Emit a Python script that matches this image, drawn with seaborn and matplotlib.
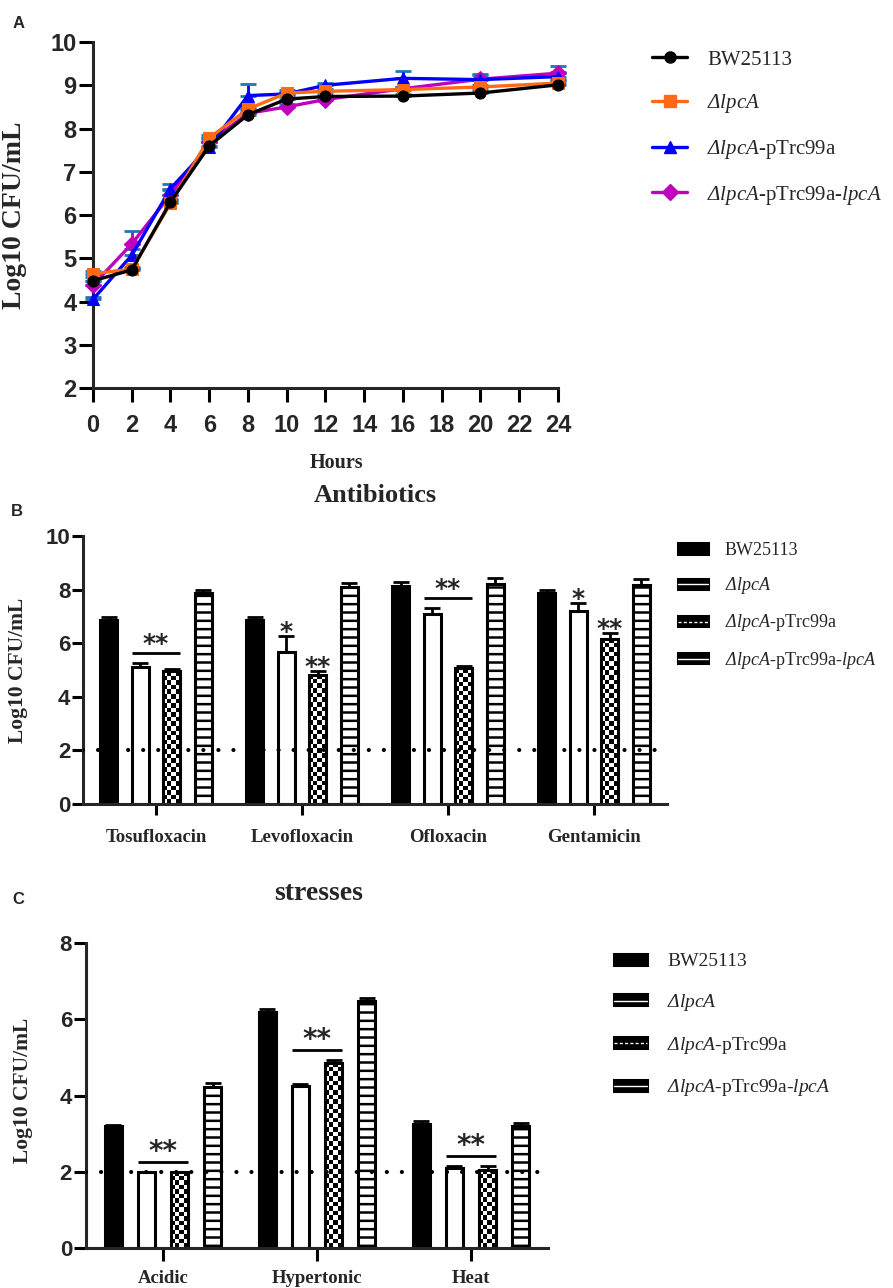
import numpy as np
import pandas as pd
import matplotlib
matplotlib.use("Agg")
import matplotlib.pyplot as plt
import seaborn as sns
from matplotlib.lines import Line2D
from matplotlib.patches import Patch
from matplotlib.legend_handler import HandlerTuple

# ---------------------------------------------------------------- data
STRAINS = ["BW25113", "dlpcA", "dlpcA-pTrc99a", "dlpcA-pTrc99a-lpcA"]
STRAIN_LABELS = [
    "BW25113",
    r"$\mathsf{\Delta}\mathit{lpcA}$",
    r"$\mathsf{\Delta}\mathit{lpcA}$-pTrc99a",
    r"$\mathsf{\Delta}\mathit{lpcA}$-pTrc99a-$\mathit{lpcA}$",
]
LINE_COLORS = ["#000000", "#FF6A13", "#0000FF", "#BF00BF"]
LINE_MARKERS = ["o", "s", "^", "D"]

# Fig A: growth curve
HOURS = [0, 2, 4, 6, 8, 10, 12, 16, 20, 24]
GROWTH_BW = [4.48, 4.73, 6.30, 7.60, 8.32, 8.68, 8.74, 8.75, 8.82, 9.01]
GROWTH_DEL = [4.64, 4.75, 6.27, 7.78, 8.45, 8.82, 8.86, 8.90, 8.96, 9.05]
GROWTH_VEC = [4.05, 5.07, 6.61, 7.58, 8.76, 8.80, 9.00, 9.16, 9.13, 9.20]
GROWTH_COMP = [4.38, 5.33, 6.47, 7.68, 8.35, 8.50, 8.67, 8.92, 9.14, 9.28]
GROWTH_BW_SD = [0.08, 0.05, 0.08, 0.10, 0.06, 0.08, 0.05, 0.05, 0.06, 0.10]
GROWTH_DEL_SD = [0.06, 0.05, 0.08, 0.06, 0.08, 0.06, 0.05, 0.05, 0.05, 0.06]
GROWTH_VEC_SD = [0.05, 0.15, 0.10, 0.10, 0.27, 0.05, 0.06, 0.17, 0.14, 0.10]
GROWTH_COMP_SD = [0.10, 0.29, 0.10, 0.10, 0.10, 0.06, 0.05, 0.05, 0.10, 0.16]

# Fig B: antibiotics
ANTIBIOTICS = ["Tosufloxacin", "Levofloxacin", "Ofloxacin", "Gentamicin"]
ABX_BW = [6.85, 6.86, 8.12, 7.86]
ABX_DEL = [5.10, 5.67, 7.10, 7.22]
ABX_VEC = [4.96, 4.82, 5.07, 6.17]
ABX_COMP = [7.86, 8.10, 8.20, 8.18]
ABX_BW_SD = [0.13, 0.13, 0.15, 0.12]
ABX_DEL_SD = [0.17, 0.60, 0.20, 0.27]
ABX_VEC_SD = [0.07, 0.14, 0.08, 0.21]
ABX_COMP_SD = [0.12, 0.15, 0.25, 0.22]
ABX_PAIR = ["**", "", "**", ""]
ABX_DEL_STAR = ["", "*", "", "*"]
ABX_VEC_STAR = ["", "**", "", "**"]

# Fig C: stresses
STRESSES = ["Acidic", "Hypertonic", "Heat"]
ST_BW = [3.20, 6.20, 3.25]
ST_DEL = [2.00, 4.25, 2.09]
ST_VEC = [2.00, 4.86, 2.05]
ST_COMP = [4.21, 6.48, 3.21]
ST_BW_SD = [0.02, 0.08, 0.07]
ST_DEL_SD = [0.00, 0.06, 0.05]
ST_VEC_SD = [0.00, 0.08, 0.09]
ST_COMP_SD = [0.12, 0.08, 0.06]
ST_PAIR = ["**", "**", "**"]
ST_DEL_STAR = ["", "", ""]
ST_VEC_STAR = ["", "", ""]

LIMIT = 2.0   # detection limit (dotted line)

# ---------------------------------------------------------------- style
W, H = 893, 1288
sns.set_style("ticks")
plt.rcParams["font.family"] = ["Liberation Sans", "DejaVu Sans"]
plt.rcParams["mathtext.fontset"] = "custom"
plt.rcParams["mathtext.rm"] = "Liberation Serif"
plt.rcParams["mathtext.it"] = "Liberation Serif:italic"
plt.rcParams["mathtext.sf"] = "Liberation Serif:italic"
plt.rcParams["mathtext.bf"] = "Liberation Serif:bold"
plt.rcParams["hatch.linewidth"] = 1.8
plt.rcParams["axes.linewidth"] = 2.2

SERIF = "Liberation Serif"
SANS = "Liberation Sans"
LW = 2.2


def box(left, top, right, bottom):
    return [left / W, 1 - bottom / H, (right - left) / W, (bottom - top) / H]


def style_axes(ax, tick_len):
    for s in ["top", "right"]:
        ax.spines[s].set_visible(False)
    for s in ["left", "bottom"]:
        ax.spines[s].set_linewidth(LW)
    ax.tick_params(width=LW, length=tick_len, direction="out", color="black")


def px_per_unit(ax):
    (x0, y0), (x1, y1) = ax.transData.transform([(0, 0), (1, 1)])
    return x1 - x0, y1 - y0


def bar_panel(ax, cats, means, sds, gap, stripe, pair, del_star, vec_star,
              star_size, tick_len, label_pad):
    rows = []
    for s, m_list in zip(STRAINS, means):
        for c, m in zip(cats, m_list):
            rows.append({"cat": c, "strain": s, "val": m})
    df = pd.DataFrame(rows)
    sns.barplot(data=df, x="cat", y="val", hue="strain", order=cats,
                hue_order=STRAINS, palette=["black", "white", "white", "white"],
                saturation=1, width=0.86, gap=gap, errorbar=None, legend=False,
                edgecolor="black", linewidth=LW, ax=ax)
    ax.set_xlim(-0.5, len(cats) - 0.5)
    ax.set_autoscale_on(False)
    style_axes(ax, tick_len)
    ax.set_xlabel("")
    ax.set_ylabel("")
    ax.set_xticks(range(len(cats)))
    ax.set_xticklabels(cats, fontfamily=SERIF, fontweight="bold", fontsize=13.5)
    ax.tick_params(axis="x", pad=label_pad)
    ax.tick_params(axis="y", pad=1)

    sx, sy = px_per_unit(ax)
    conts = ax.containers

    # upper error bars
    for cont, sd_list in zip(conts, sds):
        xs = [p.get_x() + p.get_width() / 2 for p in cont]
        tops = [p.get_height() for p in cont]
        ax.errorbar(xs, tops, yerr=[np.zeros(len(sd_list)), sd_list],
                    fmt="none", ecolor="black", elinewidth=2.0, capsize=6,
                    capthick=2.0, zorder=0.5)

    # striped complemented strain
    for p in conts[3]:
        p.set_hatch(stripe)

    # checkerboard empty-vector strain
    sq = 4.6
    for p in conts[2]:
        x0, w, h = p.get_x(), p.get_width(), p.get_height()
        ncol = max(2, int(round(w * sx / sq)))
        nrow = max(1, int(round(h * sy / sq)))
        board = np.indices((nrow, ncol)).sum(axis=0) % 2
        ax.imshow(board, cmap="binary", vmin=0, vmax=1, origin="lower",
                  extent=(x0, x0 + w, 0, h), aspect="auto",
                  interpolation="nearest", zorder=0.8)
        p.set_facecolor("none")
    ax.set_xlim(-0.5, len(cats) - 0.5)

    # detection limit
    ax.axhline(LIMIT, color="black", lw=3.0, linestyle=(0, (0.01, 3.6)),
               dash_capstyle="round", zorder=5)

    # significance marks
    for i in range(len(cats)):
        pd_, pv = conts[1][i], conts[2][i]
        top_d = pd_.get_height() + sds[1][i]
        top_v = pv.get_height() + sds[2][i]
        if pair[i]:
            y = max(top_d, top_v) + 10 / sy
            ax.plot([pd_.get_x(), pv.get_x() + pv.get_width()], [y, y],
                    color="black", lw=2.0, solid_capstyle="butt", zorder=6)
            ax.text((pd_.get_x() + pv.get_x() + pv.get_width()) / 2, y + 2 / sy,
                    pair[i], ha="center", va="baseline", fontsize=star_size,
                    fontweight="bold", family="DejaVu Sans")
        if del_star[i]:
            ax.text(pd_.get_x() + pd_.get_width() / 2, top_d - 3 / sy,
                    del_star[i], ha="center", va="baseline", fontsize=star_size,
                    fontweight="bold", family="DejaVu Sans")
        if vec_star[i]:
            ax.text(pv.get_x() + pv.get_width() / 2, top_v - 3 / sy,
                    vec_star[i], ha="center", va="baseline", fontsize=star_size,
                    fontweight="bold", family="DejaVu Sans")


def bar_legend(fig, x, y, fontsize, spacing, handlelength, textpad):
    solid = Patch(facecolor="black", edgecolor="black", lw=LW)
    inner = Line2D([], [], color="white", lw=1.0)
    dashed = Line2D([], [], color="white", lw=1.0, linestyle=(0, (2.2, 1.6)))
    handles = [solid, (solid, inner), (solid, dashed), (solid, inner)]
    fig.legend(handles, STRAIN_LABELS, loc="upper left",
               bbox_to_anchor=(x / W, 1 - y / H), frameon=False,
               prop={"family": SERIF, "size": fontsize}, borderpad=0,
               borderaxespad=0, labelspacing=spacing, handlelength=handlelength,
               handleheight=0.5, handletextpad=textpad,
               handler_map={tuple: HandlerTuple(ndivide=1)})


fig = plt.figure(figsize=(W / 100, H / 100), dpi=100)

# ---------------------------------------------------------------- A
axA = fig.add_axes(box(93, 42, 558, 388))
growth = [GROWTH_BW, GROWTH_DEL, GROWTH_VEC, GROWTH_COMP]
growth_sd = [GROWTH_BW_SD, GROWTH_DEL_SD, GROWTH_VEC_SD, GROWTH_COMP_SD]
rows = []
for s, vals in zip(STRAINS, growth):
    for t, v in zip(HOURS, vals):
        rows.append({"hour": t, "strain": s, "val": v})
gdf = pd.DataFrame(rows)
pal = dict(zip(STRAINS, LINE_COLORS))
mk = dict(zip(STRAINS, LINE_MARKERS))
for vals, sd, c in zip(growth[::-1], growth_sd[::-1], LINE_COLORS[::-1]):
    axA.errorbar(HOURS, vals, yerr=[np.zeros(len(sd)), sd], fmt="none",
                 ecolor=c, elinewidth=2.0, capsize=6, capthick=2.0,
                 clip_on=False, zorder=1)
sns.lineplot(data=gdf, x="hour", y="val", hue="strain", style="strain",
             hue_order=STRAINS[::-1], style_order=STRAINS[::-1], palette=pal,
             markers=mk, dashes=False, lw=2.4, markersize=8, errorbar=None,
             legend=False, ax=axA)
for ln in axA.lines:
    ln.set_markeredgecolor(ln.get_color())
    ln.set_clip_on(False)
    ln.set_zorder(3)
axA.set_xlim(0, 24)
axA.set_ylim(2, 10)
style_axes(axA, 10)
axA.set_xticks(range(0, 25, 2))
axA.set_xticklabels([str(v) for v in range(0, 25, 2)], fontfamily=SANS,
                    fontweight="bold", fontsize=17)
axA.set_yticks(range(2, 11))
axA.set_yticklabels([str(v) for v in range(2, 11)], fontfamily=SANS,
                    fontweight="bold", fontsize=17)
axA.tick_params(axis="x", pad=9)
axA.tick_params(axis="y", pad=2)
axA.set_xlabel("")
axA.set_ylabel("")
fig.text(336 / W, 1 - 463 / H, "Hours", ha="center", va="center",
         family=SERIF, fontweight="bold", fontsize=14.5)
fig.text(15 / W, 1 - 215 / H, "Log10 CFU/mL", ha="center", va="center",
         rotation=90, family=SERIF, fontweight="bold", fontsize=20)
fig.text(19 / W, 1 - 23 / H, "A", ha="center", va="center", family=SANS,
         fontweight="bold", fontsize=12)
line_handles = [Line2D([], [], color=c, marker=m, lw=2.4, markersize=8)
                for c, m in zip(LINE_COLORS, LINE_MARKERS)]
fig.legend(line_handles, STRAIN_LABELS, loc="upper left",
           bbox_to_anchor=(652 / W, 1 - 50 / H), frameon=False,
           prop={"family": SERIF, "size": 15}, borderpad=0, borderaxespad=0,
           labelspacing=1.09, handlelength=1.7, handletextpad=0.95)

# ---------------------------------------------------------------- B
axB = fig.add_axes(box(83, 536, 667, 804))
axB.set_ylim(0, 10)
bar_panel(axB, ANTIBIOTICS, [ABX_BW, ABX_DEL, ABX_VEC, ABX_COMP],
          [ABX_BW_SD, ABX_DEL_SD, ABX_VEC_SD, ABX_COMP_SD], gap=0.46,
          stripe="--", pair=ABX_PAIR, del_star=ABX_DEL_STAR,
          vec_star=ABX_VEC_STAR, star_size=18, tick_len=8, label_pad=10)
axB.set_yticks(range(0, 11, 2))
axB.set_yticklabels([str(v) for v in range(0, 11, 2)], fontfamily=SANS,
                    fontweight="bold", fontsize=16)
fig.text(375 / W, 1 - 495 / H, "Antibiotics", ha="center", va="center",
         family=SERIF, fontweight="bold", fontsize=19)
fig.text(18 / W, 1 - 670 / H, "Log10 CFU/mL", ha="center", va="center",
         rotation=90, family=SERIF, fontweight="bold", fontsize=15.5)
fig.text(17 / W, 1 - 511 / H, "B", ha="center", va="center", family=SANS,
         fontweight="bold", fontsize=12)
bar_legend(fig, 678, 542, 13, 0.9, 1.65, 0.95)

# ---------------------------------------------------------------- C
axC = fig.add_axes(box(86, 943, 548, 1248))
axC.set_ylim(0, 8)
bar_panel(axC, STRESSES, [ST_BW, ST_DEL, ST_VEC, ST_COMP],
          [ST_BW_SD, ST_DEL_SD, ST_VEC_SD, ST_COMP_SD], gap=0.5,
          stripe="--", pair=ST_PAIR, del_star=ST_DEL_STAR,
          vec_star=ST_VEC_STAR, star_size=20, tick_len=9, label_pad=7)
axC.set_yticks(range(0, 9, 2))
axC.set_yticklabels([str(v) for v in range(0, 9, 2)], fontfamily=SANS,
                    fontweight="bold", fontsize=16)
fig.text(319 / W, 1 - 893 / H, "stresses", ha="center", va="center",
         family=SERIF, fontweight="bold", fontsize=20)
fig.text(23 / W, 1 - 1090 / H, "Log10 CFU/mL", ha="center", va="center",
         rotation=90, family=SERIF, fontweight="bold", fontsize=15.5)
fig.text(18 / W, 1 - 900 / H, "C", ha="center", va="center", family=SANS,
         fontweight="bold", fontsize=12)
bar_legend(fig, 614, 953, 14, 1.12, 1.7, 1.05)

fig.savefig("out.png", dpi=100)
